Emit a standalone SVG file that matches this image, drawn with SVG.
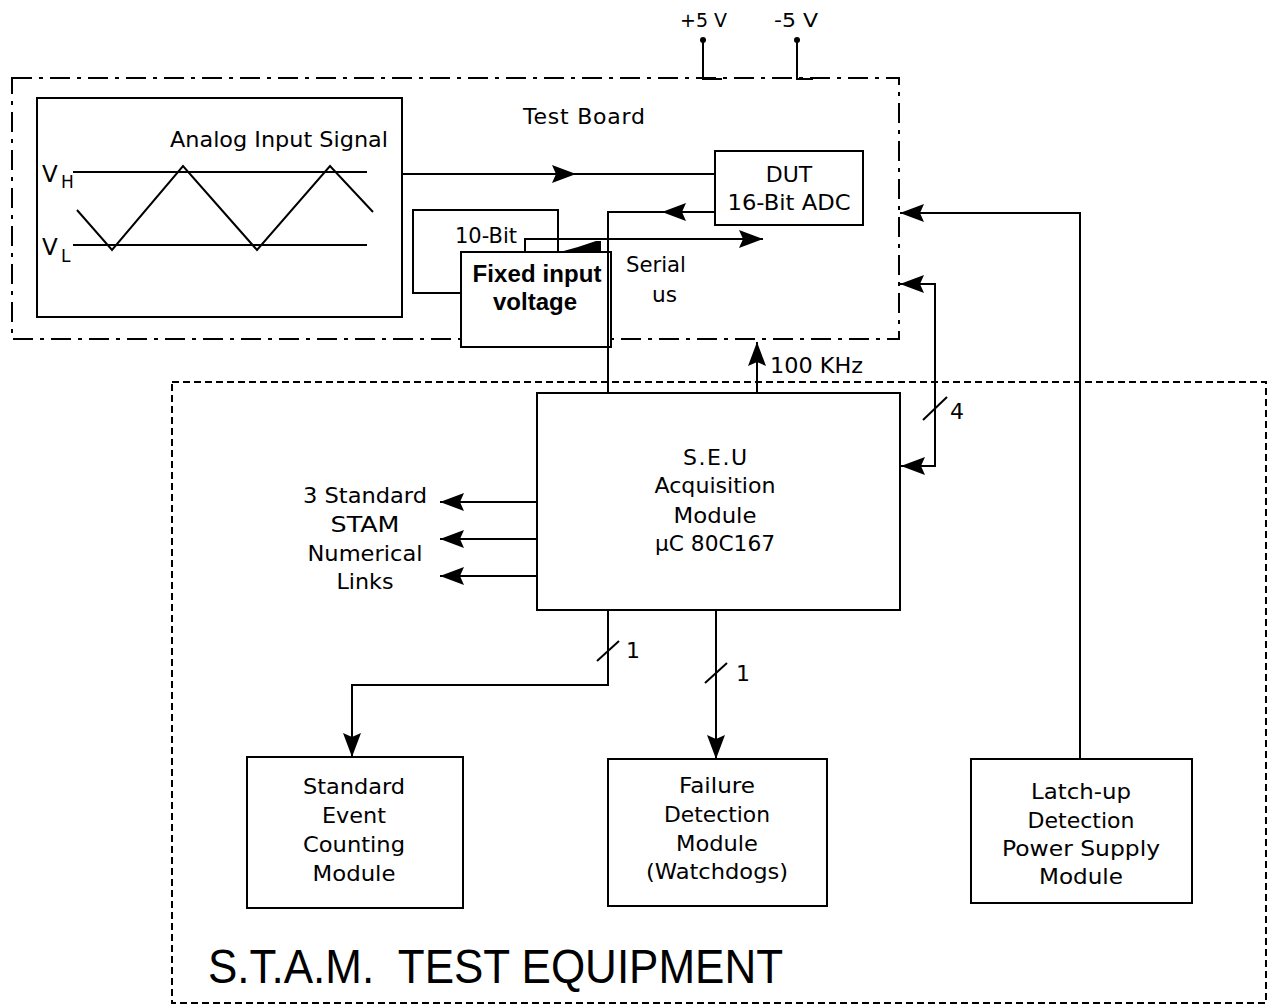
<svg xmlns="http://www.w3.org/2000/svg" width="1271" height="1008" viewBox="0 0 1271 1008">
<style>
text{font-family:"DejaVu Sans","Liberation Sans",Arial,sans-serif;font-size:22px;fill:#000}
.c{text-anchor:middle}
.b{font-family:"Liberation Sans",Arial,sans-serif;font-weight:bold;font-size:24px}
.ttl{font-family:"Liberation Sans",Arial,sans-serif;font-size:48px;white-space:pre}
.pw{font-size:20px}
.box{fill:#fff;stroke:#000;stroke-width:2}
.ln{fill:none;stroke:#000;stroke-width:2}
.tb{fill:none;stroke:#000;stroke-width:2;stroke-dasharray:20 7 4 7}
.st{fill:none;stroke:#000;stroke-width:2;stroke-dasharray:7 4}
.arr{marker-end:url(#ah)}
</style>
<defs>
<marker id="ah" markerUnits="userSpaceOnUse" markerWidth="26" markerHeight="20" viewBox="0 0 26 20" refX="24" refY="10" orient="auto">
<path d="M0,1 L24,10 L0,19 L4,10 z" fill="#000"/>
</marker>
</defs>
<rect width="1271" height="1008" fill="#fff"/>

<g id="test-board">
<rect class="tb" x="12" y="78" width="887" height="261"/>
<text x="523" y="124" textLength="122">Test Board</text>
</g>

<g id="stam">
<rect class="st" x="172" y="382" width="1094" height="621"/>
<text class="ttl" x="208" y="983" textLength="575" lengthAdjust="spacingAndGlyphs" xml:space="preserve">S.T.A.M.  TEST EQUIPMENT</text>
</g>

<g id="analog-input">
<rect class="box" x="37" y="98" width="365" height="219"/>
<text x="170" y="147" textLength="218" lengthAdjust="spacingAndGlyphs">Analog Input Signal</text>
<line class="ln" x1="73" y1="172" x2="367" y2="172"/>
<line class="ln" x1="73" y1="245" x2="367" y2="245"/>
<polyline class="ln" points="77,210 112,250 183,166 257,250 330,166 373,212"/>
<text x="42" y="182" style="font-size:23px">V</text>
<text x="61" y="188" style="font-size:17px">H</text>
<text x="42" y="255" style="font-size:23px">V</text>
<text x="61" y="262" style="font-size:17px">L</text>
</g>

<g id="dut">
<rect class="box" x="715" y="151" width="148" height="74"/>
<text class="c" x="789" y="182">DUT</text>
<text class="c" x="789" y="210" textLength="123" lengthAdjust="spacingAndGlyphs">16-Bit ADC</text>
</g>

<g id="ten-bit">
<rect class="box" x="413" y="210" width="145" height="83"/>
<text x="455" y="243" textLength="62" lengthAdjust="spacingAndGlyphs">10-Bit</text>
</g>

<g id="fixed-input">
<rect class="box" x="461" y="252" width="150" height="95"/>
<text class="c b" x="537" y="282" textLength="129">Fixed input</text>
<text class="c b" x="535" y="310" textLength="84">voltage</text>
</g>

<g id="serial-label">
<text x="626" y="272" textLength="60" lengthAdjust="spacingAndGlyphs">Serial</text>
<text x="652" y="302" textLength="25" lengthAdjust="spacingAndGlyphs">us</text>
</g>

<g id="power-terminals">
<text class="pw" x="680" y="27" textLength="47" lengthAdjust="spacingAndGlyphs">+5 V</text>
<text class="pw" x="774" y="27" textLength="44" lengthAdjust="spacingAndGlyphs">-5 V</text>
<circle cx="703" cy="40" r="3" fill="#000"/>
<circle cx="797" cy="40" r="3" fill="#000"/>
</g>

<g id="seu">
<rect class="box" x="537" y="393" width="363" height="217"/>
<text class="c" x="715" y="465" textLength="64">S.E.U</text>
<text class="c" x="715" y="493" textLength="121" lengthAdjust="spacingAndGlyphs">Acquisition</text>
<text class="c" x="715" y="523" textLength="83" lengthAdjust="spacingAndGlyphs">Module</text>
<text class="c" x="715" y="551" textLength="120" lengthAdjust="spacingAndGlyphs">µC 80C167</text>
</g>

<g id="links-label">
<text class="c" x="365" y="503" textLength="124" lengthAdjust="spacingAndGlyphs">3 Standard</text>
<text class="c" x="365" y="532" textLength="69" lengthAdjust="spacingAndGlyphs">STAM</text>
<text class="c" x="365" y="561" textLength="115" lengthAdjust="spacingAndGlyphs">Numerical</text>
<text class="c" x="365" y="589" textLength="57" lengthAdjust="spacingAndGlyphs">Links</text>
</g>

<g id="standard-event">
<rect class="box" x="247" y="757" width="216" height="151"/>
<text class="c" x="354" y="794" textLength="102" lengthAdjust="spacingAndGlyphs">Standard</text>
<text class="c" x="354" y="823" textLength="64" lengthAdjust="spacingAndGlyphs">Event</text>
<text class="c" x="354" y="852" textLength="102" lengthAdjust="spacingAndGlyphs">Counting</text>
<text class="c" x="354" y="881" textLength="83" lengthAdjust="spacingAndGlyphs">Module</text>
</g>

<g id="failure-detection">
<rect class="box" x="608" y="759" width="219" height="147"/>
<text class="c" x="717" y="793" textLength="76" lengthAdjust="spacingAndGlyphs">Failure</text>
<text class="c" x="717" y="822" textLength="106" lengthAdjust="spacingAndGlyphs">Detection</text>
<text class="c" x="717" y="851" textLength="82" lengthAdjust="spacingAndGlyphs">Module</text>
<text class="c" x="717" y="879" textLength="142" lengthAdjust="spacingAndGlyphs">(Watchdogs)</text>
</g>

<g id="latch-up">
<rect class="box" x="971" y="759" width="221" height="144"/>
<text class="c" x="1081" y="799" textLength="100" lengthAdjust="spacingAndGlyphs">Latch-up</text>
<text class="c" x="1081" y="828" textLength="107" lengthAdjust="spacingAndGlyphs">Detection</text>
<text class="c" x="1081" y="856" textLength="158" lengthAdjust="spacingAndGlyphs">Power Supply</text>
<text class="c" x="1081" y="884" textLength="84" lengthAdjust="spacingAndGlyphs">Module</text>
</g>

<g id="connectors">
<path class="ln arr" d="M402,174 H576"/>
<path class="ln" d="M576,174 H715"/>
<path class="ln arr" d="M715,212 H662"/>
<path class="ln" d="M662,212 H608 V393"/>
<path class="ln arr" d="M525,252 V239 H763"/>
<polygon points="560,252 578,247 596,241 601,241 601,252" fill="#000"/>
<path class="ln arr" d="M757,393 V342"/>
<text x="770" y="373" textLength="93" lengthAdjust="spacingAndGlyphs">100 KHz</text>
<path class="ln arr" d="M1080,759 V213 H900"/>
<path class="ln arr" d="M935,375 V284 H900"/>
<path class="ln arr" d="M935,375 V466 H901"/>
<line class="ln" x1="923" y1="420" x2="947" y2="397"/>
<text x="950" y="419">4</text>
<path class="ln arr" d="M537,502 H440"/>
<path class="ln arr" d="M537,539 H440"/>
<path class="ln arr" d="M537,576 H440"/>
<path class="ln arr" d="M608,610 V685 H352 V757"/>
<line class="ln" x1="597" y1="661" x2="619" y2="641"/>
<text x="626" y="658">1</text>
<path class="ln arr" d="M716,610 V759"/>
<line class="ln" x1="705" y1="683" x2="727" y2="663"/>
<text x="736" y="681">1</text>
<path class="ln" d="M703,40 V79 H722"/>
<path class="ln" d="M797,40 V79 H813"/>
</g>
</svg>
